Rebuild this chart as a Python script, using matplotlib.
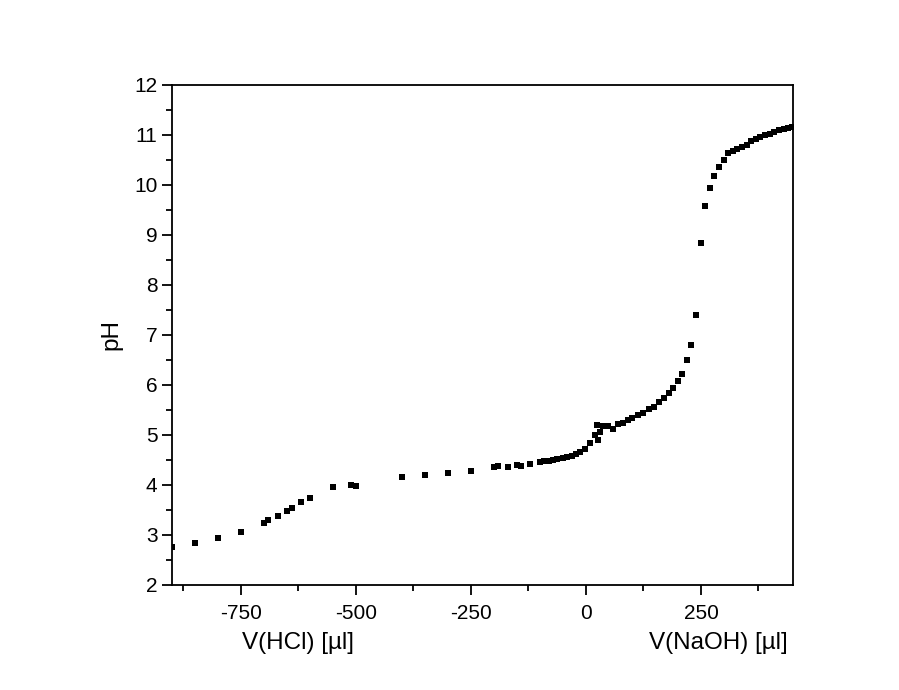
import matplotlib
matplotlib.use("Agg")
import matplotlib.pyplot as plt
import matplotlib.transforms as mtransforms
from matplotlib.ticker import MultipleLocator

plt.rcParams['font.family'] = ['Liberation Sans', 'DejaVu Sans']
plt.rcParams['axes.unicode_minus'] = False

# Titration data: negative volumes = HCl added, positive = NaOH added
volume = [-900, -849, -799, -750, -700, -691, -670, -650, -640, -620, -600,
          -550, -510, -500, -401, -351, -301, -251, -201, -191, -170, -151,
          -141, -121, -101, -91, -81, -71, -62, -51, -41, -31, -22, -12, -2,
          9, 19, 24, 27, 31, 38, 47, 59, 69, 80, 91, 101, 112, 123, 138, 148,
          159, 169, 180, 190, 199, 209, 219, 229, 239, 249, 259, 269, 279,
          289, 299, 309, 319, 329, 339, 349, 359, 369, 379, 389, 399, 409,
          420, 430, 440, 447]
ph = [2.77, 2.85, 2.95, 3.07, 3.24, 3.30, 3.39, 3.49, 3.54, 3.66, 3.75,
      3.96, 4.01, 3.99, 4.16, 4.21, 4.25, 4.29, 4.37, 4.38, 4.37, 4.41,
      4.39, 4.43, 4.47, 4.48, 4.49, 4.51, 4.52, 4.54, 4.56, 4.59, 4.63, 4.67, 4.73,
      4.85, 5.00, 5.20, 4.91, 5.07, 5.18, 5.18, 5.13, 5.22, 5.25, 5.30, 5.35, 5.40,
      5.45, 5.52, 5.57, 5.67, 5.75, 5.84, 5.94, 6.08, 6.23, 6.50, 6.81, 7.41,
      8.85, 9.59, 9.95, 10.19, 10.37, 10.51, 10.65, 10.69, 10.73, 10.77, 10.80,
      10.88, 10.92, 10.96, 11.00, 11.03, 11.06, 11.11, 11.13, 11.15, 11.16]

fig = plt.figure(figsize=(8.99, 6.90), dpi=100)
ax = fig.add_axes([172/899, 105/690, 621/899, 500/690])

ax.plot(volume, ph, 's', color='black', markersize=4.3, markeredgewidth=0)

ax.set_xlim(-900, 450)
ax.set_ylim(2, 12)
ax.xaxis.set_major_locator(MultipleLocator(250))
ax.xaxis.set_minor_locator(MultipleLocator(125))
ax.yaxis.set_major_locator(MultipleLocator(1))
ax.yaxis.set_minor_locator(MultipleLocator(0.5))
ax.tick_params(which='major', direction='out', length=7, width=1.3, labelsize=15)
ax.tick_params(which='minor', direction='out', length=4, width=1.3)
ax.tick_params(axis='x', which='major', pad=7)
ax.tick_params(top=False, right=False)
for s in ax.spines.values():
    s.set_linewidth(1.3)

ax.set_ylabel('pH', fontsize=17.5, labelpad=8)

# the two x labels, one under each side
trans = mtransforms.blended_transform_factory(ax.transData, ax.transAxes)
ax.text(-627, -0.129, 'V(HCl) [µl]', transform=trans, ha='center', va='baseline', fontsize=17.5)
ax.text(439, -0.129, 'V(NaOH) [µl]', transform=trans, ha='right', va='baseline', fontsize=17.5)

fig.savefig('out.png', dpi=100)
